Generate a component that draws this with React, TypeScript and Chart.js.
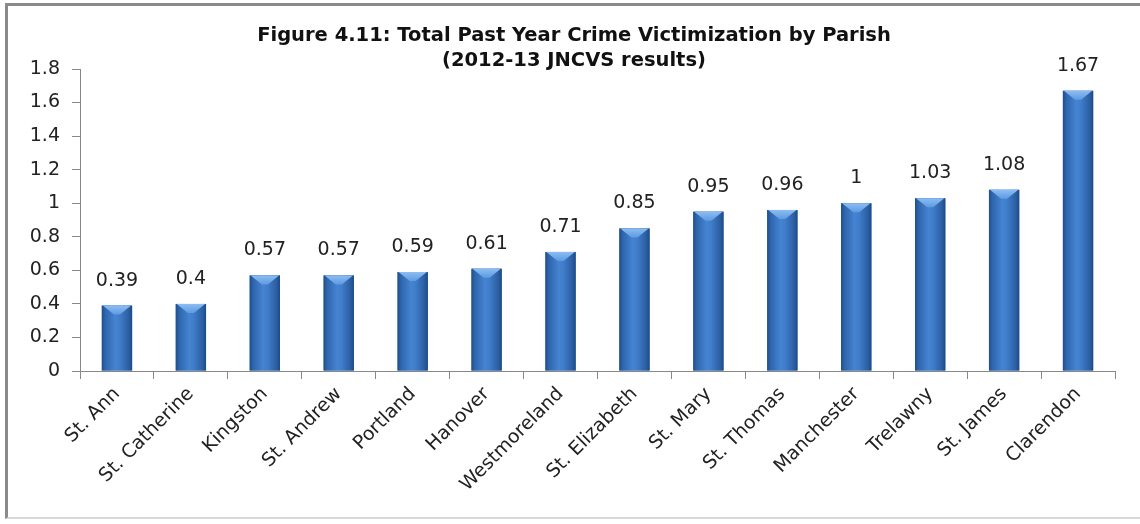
import React, { useEffect, useRef } from "react";
import { Chart, registerables } from "chart.js";

Chart.register(...registerables);

const categories: string[] = [
  "St. Ann",
  "St. Catherine",
  "Kingston",
  "St. Andrew",
  "Portland",
  "Hanover",
  "Westmoreland",
  "St. Elizabeth",
  "St. Mary",
  "St. Thomas",
  "Manchester",
  "Trelawny",
  "St. James",
  "Clarendon",
];

const values: number[] = [0.39, 0.4, 0.57, 0.57, 0.59, 0.61, 0.71, 0.85, 0.95, 0.96, 1, 1.03, 1.08, 1.67];

const yTicks: number[] = [0, 0.2, 0.4, 0.6, 0.8, 1, 1.2, 1.4, 1.6, 1.8];

const titleLines: string[] = [
  "Figure 4.11: Total Past Year Crime Victimization by Parish",
  "(2012-13 JNCVS results)",
];

const FONT = "'DejaVu Sans', sans-serif";

const barStylePlugin = {
  id: "barStyle",
  afterDatasetsDraw(chart: any) {
    const ctx = chart.ctx as CanvasRenderingContext2D;
    const meta = chart.getDatasetMeta(0);
    ctx.save();
    meta.data.forEach((bar: any) => {
      const w = bar.width;
      const left = bar.x - w / 2;
      const top = bar.y;
      const h = bar.base - bar.y;
      const g = ctx.createLinearGradient(left, 0, left + w, 0);
      g.addColorStop(0, "#1f4e8c");
      g.addColorStop(0.12, "#2f66ad");
      g.addColorStop(0.45, "#4584d2");
      g.addColorStop(0.6, "#3f7cc9");
      g.addColorStop(0.88, "#2c5fa3");
      g.addColorStop(1, "#1d4a86");
      ctx.fillStyle = g;
      ctx.fillRect(left, top, w, h);
      const cap = Math.min(9, h);
      const cg = ctx.createLinearGradient(0, top, 0, top + cap);
      cg.addColorStop(0, "#8dbdf2");
      cg.addColorStop(1, "#5d9be2");
      ctx.fillStyle = cg;
      ctx.beginPath();
      ctx.moveTo(left + 1, top);
      ctx.lineTo(left + w - 1, top);
      ctx.lineTo(left + w / 2 + 3, top + cap);
      ctx.lineTo(left + w / 2 - 3, top + cap);
      ctx.closePath();
      ctx.fill();
    });
    ctx.restore();
  },
  afterDraw(chart: any) {
    const ctx = chart.ctx as CanvasRenderingContext2D;
    const meta = chart.getDatasetMeta(0);
    ctx.save();
    ctx.fillStyle = "#222";
    ctx.font = `19px ${FONT}`;
    ctx.textAlign = "center";
    ctx.textBaseline = "alphabetic";
    meta.data.forEach((bar: any, i: number) => {
      ctx.fillText(String(values[i]), bar.x, bar.y - 20);
    });
    ctx.font = `bold 19.5px ${FONT}`;
    ctx.fillStyle = "#111";
    ctx.textBaseline = "middle";
    const cx = 574;
    ctx.fillText(titleLines[0], cx, 36);
    ctx.fillText(titleLines[1], cx, 61);
    ctx.restore();
  },
};

export default function App() {
  const ref = useRef<HTMLCanvasElement | null>(null);

  useEffect(() => {
    document.body.style.margin = "0";
    if (!ref.current) return;
    const chart = new Chart(ref.current, {
      type: "bar",
      data: {
        labels: categories,
        datasets: [
          {
            data: values,
            backgroundColor: "#3a76c0",
            barPercentage: 0.41,
            categoryPercentage: 1,
          },
        ],
      },
      options: {
        responsive: false,
        animation: false,
        devicePixelRatio: 1,
        layout: { padding: { left: 0, right: 25, top: 69, bottom: 24 } },
        plugins: {
          legend: { display: false },
          title: { display: false },
          tooltip: { enabled: false },
        },
        scales: {
          x: {
            grid: {
              display: true,
              drawOnChartArea: false,
              drawTicks: true,
              tickLength: 8,
              color: "#888",
              offset: true,
            },
            border: { display: true, color: "#888" },
            ticks: {
              color: "#222",
              font: { size: 19, family: FONT },
              maxRotation: 45,
              minRotation: 45,
              autoSkip: false,
              padding: 4,
            },
          },
          y: {
            min: 0,
            max: 1.8,
            afterBuildTicks(scale: any) {
              scale.ticks = yTicks.map((v) => ({ value: v }));
            },
            afterFit(scale: any) {
              scale.width = 80;
            },
            grid: {
              display: true,
              drawOnChartArea: false,
              drawTicks: true,
              tickLength: 8,
              color: "#888",
            },
            border: { display: true, color: "#888" },
            ticks: {
              color: "#222",
              font: { size: 19, family: FONT },
              padding: 12,
              callback: (v: any) => String(Math.round(Number(v) * 10) / 10),
            },
          },
        },
      },
      plugins: [barStylePlugin],
    });
    return () => chart.destroy();
  }, []);

  return (
    <div style={{ position: "relative", width: 1140, height: 524, overflow: "hidden", background: "#fff" }}>
      <div
        style={{
          position: "absolute",
          left: 5,
          top: 3,
          width: 1140,
          height: 516,
          borderTop: "3px solid #8a8a8a",
          borderLeft: "3px solid #8a8a8a",
          borderBottom: "2px solid #d8d8d8",
          boxSizing: "border-box",
        }}
      />
      <canvas ref={ref} width={1140} height={524} style={{ position: "absolute", left: 0, top: 0 }} />
    </div>
  );
}
